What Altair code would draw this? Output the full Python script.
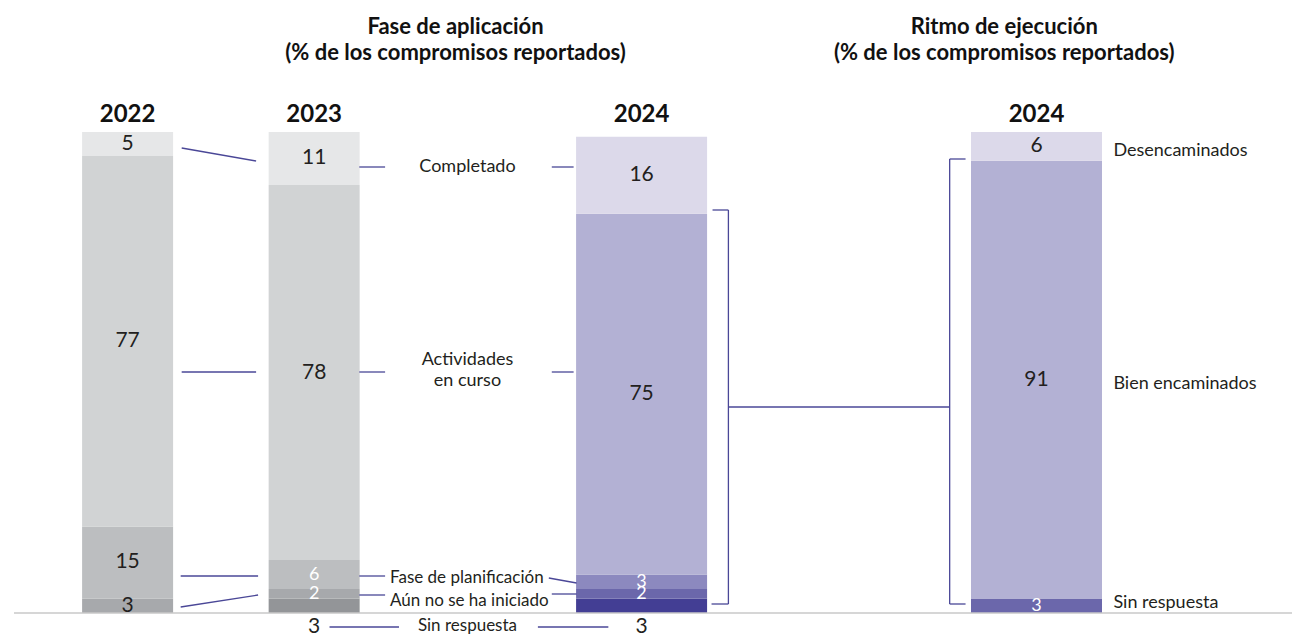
import altair as alt
import pandas as pd

# ---------------- data ----------------
fase_categories = ["Completado", "Actividades en curso", "Fase de planificación",
                   "Aún no se ha iniciado", "Sin respuesta"]
vals_2022 = [5, 77, 15, 3, 0]
vals_2023 = [11, 78, 6, 2, 3]
vals_2024 = [16, 75, 3, 2, 3]
ritmo_categories = ["Desencaminados", "Bien encaminados", "Sin respuesta"]
vals_ritmo = [6, 91, 3]
year_labels = ["2022", "2023", "2024", "2024"]
title_fase = ["Fase de aplicación", "(% de los compromisos reportados)"]
title_ritmo = ["Ritmo de ejecución", "(% de los compromisos reportados)"]

# ---------------- layout / style ----------------
W, H = 1289, 629
BASE_PX = 613.0
PX_PER = 4.81
def v(py):
    return (BASE_PX - py) / PX_PER

gray = ["#e6e7e8", "#d1d3d4", "#bcbec0", "#a7a9ac", "#939598"]
purple = ["#dcd9ea", "#b3b1d4", "#8c89bf", "#6b67ab", "#433e94"]
purple_ritmo = ["#dcd9ea", "#b3b1d4", "#6b67ab"]
DARK = "#231f20"
LINE = "#4a4797"
FONT = "Lato"

columns = [
    # name, center x, width, values, colors, categories, white-label cats, below-label cats
    ("2022", 123.5, 91, vals_2022, gray, fase_categories, [], []),
    ("2023", 311.5, 91, vals_2023, gray, fase_categories,
     ["Fase de planificación", "Aún no se ha iniciado"], ["Sin respuesta"]),
    ("2024", 641.5, 131, vals_2024, purple, fase_categories,
     ["Fase de planificación", "Aún no se ha iniciado"], ["Sin respuesta"]),
    ("2024r", 1039.5, 131, vals_ritmo, purple_ritmo, ritmo_categories,
     ["Sin respuesta"], []),
]

bar_rows, val_rows = [], []
for name, cx, w, vals, cols, cats, white, below in columns:
    y0 = 0
    for cat, val, col in reversed(list(zip(cats, vals, cols))):
        if val == 0:
            continue
        bar_rows.append(dict(col=name, x=cx, w=w, cat=cat, y0=y0, y1=y0 + val, fill=col))
        if cat in below:
            ty = v(627)
        else:
            ty = y0 + val / 2
        is_white = cat in white
        val_rows.append(dict(x=cx, y=ty, text=str(val),
                             color="#ffffff" if is_white else DARK,
                             fs=18 if is_white else 21))
        y0 += val

bars = pd.DataFrame(bar_rows)
vals_df = pd.DataFrame(val_rows)

x_scale = alt.Scale(domain=[8, 8 + W], nice=False, zero=False)
y_scale = alt.Scale(domain=[v(8 + H), v(8)], nice=False, zero=False)
X = lambda f: alt.X(f, type="quantitative", scale=x_scale, axis=None)
Y = lambda f: alt.Y(f, type="quantitative", scale=y_scale, axis=None)

def bar_layer(width):
    d = bars[bars["w"] == width]
    return alt.Chart(d).mark_bar(size=width).encode(
        x=X("x"), y=Y("y0"), y2="y1",
        color=alt.Color("fill:N", scale=None))

# connector lines (page pixel layout)
segs = [
    (178, 148, 253, 161), (178, 372, 253, 372), (177, 576, 255, 576), (177, 607, 255, 595),
    (357, 167, 383, 167), (551, 167, 573, 167),
    (357, 372, 383, 372), (551, 372, 573, 372),
    (357, 576, 383, 576), (548, 578, 576, 583),
    (357, 595, 383, 595), (551, 594, 576, 594),
    (327, 627, 397, 627), (537, 627, 608, 627),
    # left bracket
    (713, 210, 729, 210), (729, 210, 729, 604), (712, 604, 729, 604),
    (729, 407, 952, 407),
    # right bracket
    (952, 159, 968, 159), (952, 159, 952, 604), (952, 604, 968, 604),
]
seg_df = pd.DataFrame([dict(x=a, y=v(b), x2=c, y2=v(d)) for a, b, c, d in segs])
lines = alt.Chart(seg_df).mark_rule(color=LINE, strokeWidth=1.3).encode(
    x=X("x"), y=Y("y"), x2="x2", y2="y2")

base_df = pd.DataFrame([dict(x=9, x2=8 + W, y=0.0)])
baseline = alt.Chart(base_df).mark_rule(color="#c9c9c9", strokeWidth=1.3).encode(
    x=X("x"), x2="x2", y=Y("y"))

values = alt.Chart(vals_df).mark_text(font=FONT, baseline="middle").encode(
    x=X("x"), y=Y("y"), text="text:N", color=alt.Color("color:N", scale=None),
    size=alt.Size("fs:Q", scale=None))

# category labels
lab_rows = [
    (466, 167, "Completado", "center", 18),
    (466, 360, "Actividades", "center", 18),
    (466, 381, "en curso", "center", 18),
    (388, 578, "Fase de planificación", "left", 17),
    (388, 601, "Aún no se ha iniciado", "left", 17),
    (466, 626, "Sin respuesta", "center", 17),
    (1117, 151, ritmo_categories[0], "left", 18),
    (1117, 384, ritmo_categories[1], "left", 18),
    (1117, 603, ritmo_categories[2], "left", 18),
]
lab_df = pd.DataFrame([dict(x=a, y=v(b), text=t, al=al, fs=fs) for a, b, t, al, fs in lab_rows])
def lab_layer(align):
    return alt.Chart(lab_df[lab_df["al"] == align]).mark_text(
        font=FONT, align=align, baseline="middle", color=DARK).encode(
        x=X("x"), y=Y("y"), text="text:N", size=alt.Size("fs:Q", scale=None))

# years
yr_df = pd.DataFrame([dict(x=c[1], y=v(115), text=t) for c, t in zip(columns, year_labels)])
years = alt.Chart(yr_df).mark_text(font=FONT, fontSize=24, fontWeight="bold",
                                   baseline="middle", color="#111111").encode(
    x=X("x"), y=Y("y"), text="text:N")

# titles
tt_df = pd.DataFrame([
    dict(x=454, y=v(27), text=title_fase[0]),
    dict(x=454, y=v(53), text=title_fase[1]),
    dict(x=1007, y=v(27), text=title_ritmo[0]),
    dict(x=1007, y=v(53), text=title_ritmo[1]),
])
titles = alt.Chart(tt_df).mark_text(font=FONT, fontSize=22, fontWeight="bold",
                                    baseline="middle", color="#111111").encode(
    x=X("x"), y=Y("y"), text="text:N")

chart = alt.layer(
    bar_layer(91), bar_layer(131), baseline, lines, values,
    lab_layer("center"), lab_layer("left"), years, titles,
).properties(
    width=W, height=H, padding=0,
    autosize=alt.AutoSizeParams(type="none"),
).configure_view(stroke=None)

chart.save("out.html", embed_options={"renderer": "svg", "actions": False})
